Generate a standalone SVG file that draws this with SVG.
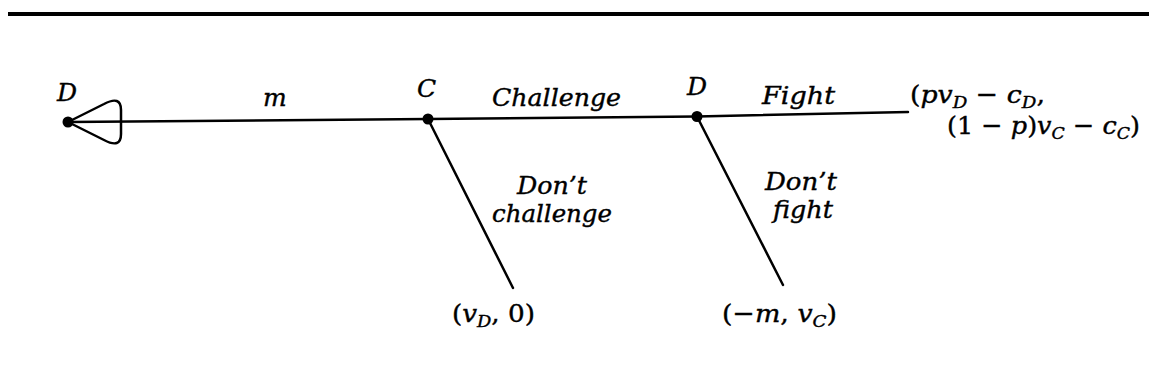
<svg xmlns="http://www.w3.org/2000/svg" width="1149" height="385" viewBox="0 0 1149 385">
<style>
.t{font-family:"DejaVu Serif","Liberation Serif",serif;font-style:italic;font-size:25px;fill:#000;stroke:#000;stroke-width:0.4}
.u{font-style:normal}
.s{font-size:17px}
.e{stroke:#000;stroke-width:2.5;fill:none;stroke-linecap:round;stroke-linejoin:round}
.n{fill:#000}
</style>
<rect x="8" y="12" width="1141" height="4" fill="#000"/>
<g id="connectors">
<polyline class="e" points="68,122 428,119 697,116.5 908,112"/>
<path class="e" d="M68,122 L104,104 Q121,95 121,110 L121,134 Q121,149 104,140 Z"/>
<line class="e" x1="428" y1="119" x2="513" y2="288"/>
<line class="e" x1="697" y1="116.5" x2="783" y2="285"/>
</g>
<g id="node-D1"><circle class="n" cx="68" cy="122" r="5.5"/><text class="t" x="57" y="101">D</text></g>
<g id="node-C"><circle class="n" cx="428" cy="119" r="5.5"/><text class="t" x="417" y="97">C</text></g>
<g id="node-D2"><circle class="n" cx="697" cy="116.5" r="5.5"/><text class="t" x="687" y="95">D</text></g>
<g id="labels">
<text class="t" x="263" y="106">m</text>
<text class="t" x="492" y="106" textLength="129" lengthAdjust="spacingAndGlyphs">Challenge</text>
<text class="t" x="762" y="104" textLength="73" lengthAdjust="spacingAndGlyphs">Fight</text>
<text class="t" x="517" y="194" textLength="70" lengthAdjust="spacingAndGlyphs">Don’t</text>
<text class="t" x="492" y="222" textLength="120" lengthAdjust="spacingAndGlyphs">challenge</text>
<text class="t" x="765" y="190" textLength="72" lengthAdjust="spacingAndGlyphs">Don’t</text>
<text class="t" x="773" y="218" textLength="60" lengthAdjust="spacingAndGlyphs">fight</text>
</g>
<g id="payoffs">
<text class="t" x="910" y="103" textLength="135" lengthAdjust="spacingAndGlyphs"><tspan class="u">(</tspan>pv<tspan class="s" dy="5">D</tspan><tspan class="u" dy="-5"> − </tspan>c<tspan class="s" dy="5">D</tspan><tspan class="u" dy="-5">,</tspan></text>
<text class="t" x="947" y="134" textLength="193" lengthAdjust="spacingAndGlyphs"><tspan class="u">(1 − </tspan>p<tspan class="u">)</tspan>v<tspan class="s" dy="5">C</tspan><tspan class="u" dy="-5"> − </tspan>c<tspan class="s" dy="5">C</tspan><tspan class="u" dy="-5">)</tspan></text>
<text class="t" x="452" y="322" textLength="83" lengthAdjust="spacingAndGlyphs"><tspan class="u">(</tspan>v<tspan class="s" dy="5">D</tspan><tspan class="u" dy="-5">, 0)</tspan></text>
<text class="t" x="722" y="322" textLength="115" lengthAdjust="spacingAndGlyphs"><tspan class="u">(−</tspan>m<tspan class="u">, </tspan>v<tspan class="s" dy="5">C</tspan><tspan class="u" dy="-5">)</tspan></text>
</g>
</svg>
